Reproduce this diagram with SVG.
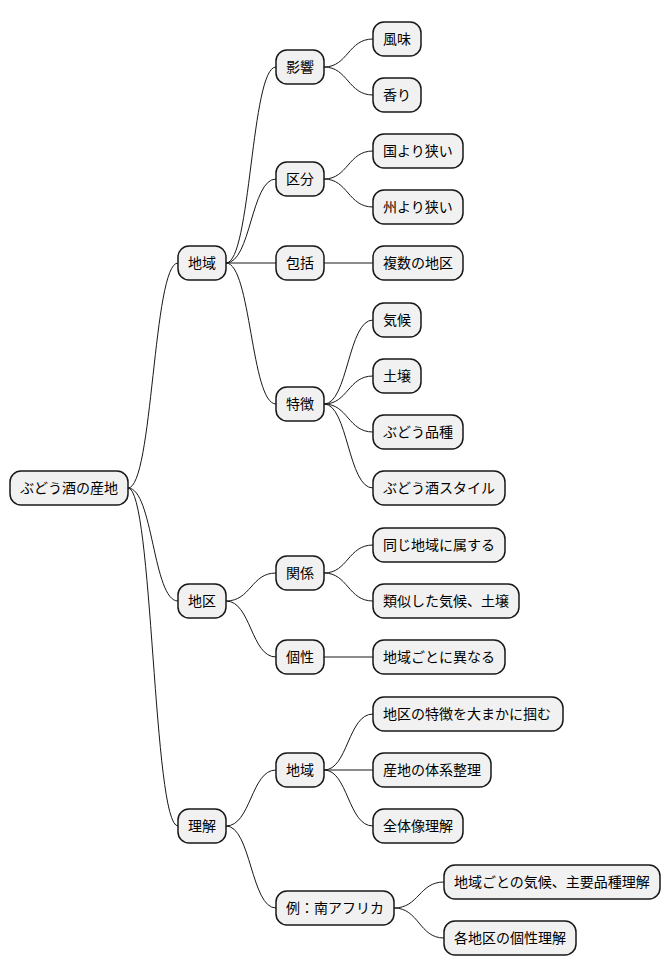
<svg xmlns="http://www.w3.org/2000/svg" width="670" height="978" viewBox="0 0 670 978">
<style>
rect{fill:#F1F1F1;stroke:#181818;stroke-width:1.5}
text{font-family:"Noto Sans CJK JP",sans-serif;font-size:14px;fill:#000}
#edges path{fill:none;stroke:#181818;stroke-width:1}
</style>
<rect x="0" y="0" width="670" height="978" style="fill:#fff;stroke:none"/>
<g id="edges">
<path d="M128,488 C153,488 153,263 178,263"/>
<path d="M128,488 C153,488 153,601 178,601"/>
<path d="M128,488 C153,488 153,826 178,826"/>
<path d="M226,263 C251,263 251,67 276,67"/>
<path d="M226,263 C251,263 251,179 276,179"/>
<path d="M226,263 L276,263"/>
<path d="M226,263 C251,263 251,404 276,404"/>
<path d="M324,67 C348,67 348,39 373,39"/>
<path d="M324,67 C348,67 348,95 373,95"/>
<path d="M324,179 C348,179 348,151 373,151"/>
<path d="M324,179 C348,179 348,207 373,207"/>
<path d="M324,263 L373,263"/>
<path d="M324,404 C348,404 348,320 373,320"/>
<path d="M324,404 C348,404 348,376 373,376"/>
<path d="M324,404 C348,404 348,432 373,432"/>
<path d="M324,404 C348,404 348,488 373,488"/>
<path d="M226,601 C251,601 251,573 276,573"/>
<path d="M226,601 C251,601 251,657 276,657"/>
<path d="M324,573 C348,573 348,545 373,545"/>
<path d="M324,573 C348,573 348,601 373,601"/>
<path d="M324,657 L373,657"/>
<path d="M226,826 C251,826 251,770 276,770"/>
<path d="M226,826 C251,826 251,908 276,908"/>
<path d="M324,770 C348,770 348,714 373,714"/>
<path d="M324,770 L373,770"/>
<path d="M324,770 C348,770 348,826 373,826"/>
<path d="M394,908 C419,908 419,882 444,882"/>
<path d="M394,908 C419,908 419,938 444,938"/>
</g>
<g id="root"><rect x="10" y="471" width="118" height="34" rx="11"/><text x="20" y="493">ぶどう酒の産地</text></g>
<g id="n1"><rect x="178" y="246" width="48" height="34" rx="11"/><text x="188" y="268">地域</text></g>
<g id="n2"><rect x="178" y="584" width="48" height="34" rx="11"/><text x="188" y="606">地区</text></g>
<g id="n3"><rect x="178" y="809" width="48" height="34" rx="11"/><text x="188" y="831">理解</text></g>
<g id="n11"><rect x="276" y="50" width="48" height="34" rx="11"/><text x="286" y="72">影響</text></g>
<g id="n12"><rect x="276" y="162" width="48" height="34" rx="11"/><text x="286" y="184">区分</text></g>
<g id="n13"><rect x="276" y="246" width="48" height="34" rx="11"/><text x="286" y="268">包括</text></g>
<g id="n14"><rect x="276" y="387" width="48" height="34" rx="11"/><text x="286" y="409">特徴</text></g>
<g id="n21"><rect x="276" y="556" width="48" height="34" rx="11"/><text x="286" y="578">関係</text></g>
<g id="n22"><rect x="276" y="640" width="48" height="34" rx="11"/><text x="286" y="662">個性</text></g>
<g id="n31"><rect x="276" y="753" width="48" height="34" rx="11"/><text x="286" y="775">地域</text></g>
<g id="n32"><rect x="276" y="891" width="118" height="34" rx="11"/><text x="286" y="913">例：南アフリカ</text></g>
<g id="a1"><rect x="373" y="22" width="48" height="34" rx="11"/><text x="383" y="44">風味</text></g>
<g id="a2"><rect x="373" y="78" width="48" height="34" rx="11"/><text x="383" y="100">香り</text></g>
<g id="a3"><rect x="373" y="134" width="90" height="34" rx="11"/><text x="383" y="156">国より狭い</text></g>
<g id="a4"><rect x="373" y="190" width="90" height="34" rx="11"/><text x="383" y="212">州より狭い</text></g>
<g id="a5"><rect x="373" y="246" width="90" height="34" rx="11"/><text x="383" y="268">複数の地区</text></g>
<g id="a6"><rect x="373" y="303" width="48" height="34" rx="11"/><text x="383" y="325">気候</text></g>
<g id="a7"><rect x="373" y="359" width="48" height="34" rx="11"/><text x="383" y="381">土壌</text></g>
<g id="a8"><rect x="373" y="415" width="90" height="34" rx="11"/><text x="383" y="437">ぶどう品種</text></g>
<g id="a9"><rect x="373" y="471" width="132" height="34" rx="11"/><text x="383" y="493">ぶどう酒スタイル</text></g>
<g id="b1"><rect x="373" y="528" width="132" height="34" rx="11"/><text x="383" y="550">同じ地域に属する</text></g>
<g id="b2"><rect x="373" y="584" width="146" height="34" rx="11"/><text x="383" y="606">類似した気候、土壌</text></g>
<g id="b3"><rect x="373" y="640" width="132" height="34" rx="11"/><text x="383" y="662">地域ごとに異なる</text></g>
<g id="c1"><rect x="373" y="697" width="190" height="34" rx="11"/><text x="383" y="719">地区の特徴を大まかに掴む</text></g>
<g id="c2"><rect x="373" y="753" width="118" height="34" rx="11"/><text x="383" y="775">産地の体系整理</text></g>
<g id="c3"><rect x="373" y="809" width="90" height="34" rx="11"/><text x="383" y="831">全体像理解</text></g>
<g id="d1"><rect x="444" y="865" width="216" height="34" rx="11"/><text x="454" y="887">地域ごとの気候、主要品種理解</text></g>
<g id="d2"><rect x="444" y="921" width="132" height="34" rx="11"/><text x="454" y="943">各地区の個性理解</text></g>
</svg>
